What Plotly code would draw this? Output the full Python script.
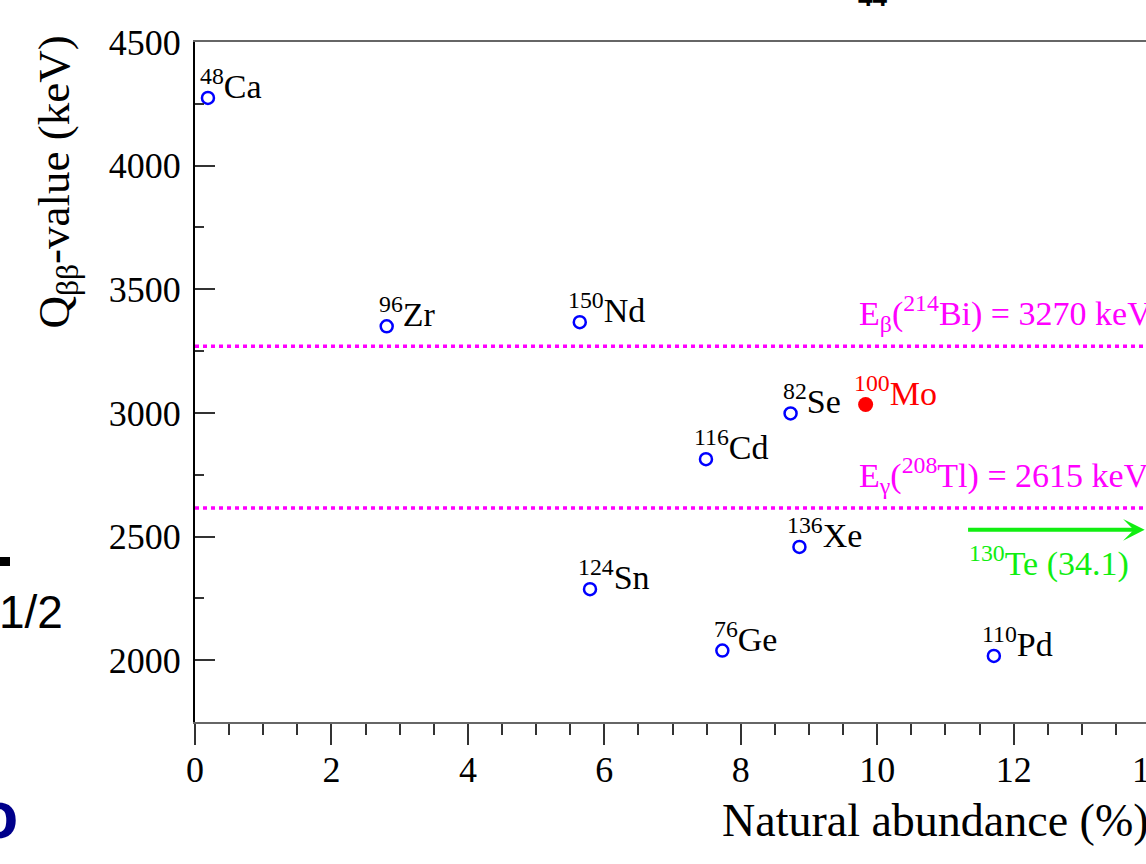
import plotly.graph_objects as go

# ---- data ----
mass_numbers = ["48", "76", "82", "96", "110", "116", "124", "136", "150"]
elements = ["Ca", "Ge", "Se", "Zr", "Pd", "Cd", "Sn", "Xe", "Nd"]
abundance = [0.19, 7.73, 8.73, 2.81, 11.71, 7.49, 5.79, 8.86, 5.64]
q_value = [4274, 2039, 2998, 3350, 2017, 2813, 2287, 2458, 3367]

mo_mass, mo_element = "100", "Mo"
mo_abundance = [9.83]
mo_q = [3034]

te_mass, te_element = "130", "Te"
te_abundance = 34.1
te_q = 2527
te_arrow_start = 11.31

bg_lines_q = [3270, 2615]
bg_labels = ["E<sub>β</sub>(<sup>214</sup>Bi) = 3270 keV",
             "E<sub>γ</sub>(<sup>208</sup>Tl) = 2615 keV"]
bg_label_x = 9.71

x_range = [0, 13.94]
y_range = [1750, 4500]
x_ticks = [0, 2, 4, 6, 8, 10, 12]
y_ticks = [2000, 2500, 3000, 3500, 4000, 4500]

SERIF = "Liberation Serif"
SANS = "Liberation Sans"
W, H = 1146, 864
L, R, T, B = 195, 0, 42, 142
PW, PH = W - L - R, H - T - B


def px(xp):
    return (xp - L) / PW


def py(yp):
    return (H - B - yp) / PH


fig = go.Figure()

# background lines
for qv in bg_lines_q:
    fig.add_trace(go.Scatter(
        x=[x_range[0], 14.5], y=[qv, qv], mode="lines",
        line=dict(color="#ff00ff", width=3.5, dash="4px,4px"),
        hoverinfo="skip", showlegend=False, cliponaxis=True))

fig.add_trace(go.Scatter(
    x=abundance, y=q_value, mode="markers",
    marker=dict(symbol="circle-open", size=12, color="#0000ff",
                line=dict(width=2.5, color="#0000ff")),
    showlegend=False, cliponaxis=False))

fig.add_trace(go.Scatter(
    x=mo_abundance, y=mo_q, mode="markers",
    marker=dict(symbol="circle", size=15, color="#ff0000"),
    showlegend=False, cliponaxis=False))

annotations = []
for m, e, xv, yv in zip(mass_numbers, elements, abundance, q_value):
    annotations.append(dict(
        x=xv, y=yv, xref="x", yref="y", text=f"<sup>{m}</sup>{e}",
        showarrow=False, xanchor="left", yanchor="bottom",
        xshift=-2 - 4 * len(m), yshift=-9,
        font=dict(family=SERIF, size=34, color="black")))

annotations.append(dict(
    x=mo_abundance[0], y=mo_q[0], xref="x", yref="y",
    text=f"<sup>{mo_mass}</sup>{mo_element}",
    showarrow=False, xanchor="left", yanchor="bottom",
    xshift=-2 - 4 * len(mo_mass), yshift=-9,
    font=dict(family=SERIF, size=34, color="#ff0000")))

for qv, lab in zip(bg_lines_q, bg_labels):
    annotations.append(dict(
        x=bg_label_x, y=qv, xref="x", yref="y", text=lab,
        showarrow=False, xanchor="left", yanchor="bottom", yshift=7,
        font=dict(family=SERIF, size=34, color="#ff00ff")))

# 130Te arrow (off scale)
annotations.append(dict(
    x=13.92, y=te_q, xref="x", yref="y",
    ax=te_arrow_start, ay=te_q, axref="x", ayref="y",
    text="", showarrow=True, arrowhead=3, arrowsize=0.9, arrowwidth=4,
    arrowcolor="#11ee11"))
annotations.append(dict(
    x=te_arrow_start, y=te_q, xref="x", yref="y",
    text=f"<sup>{te_mass}</sup>{te_element} ({te_abundance})",
    showarrow=False, xanchor="left", yanchor="top", yshift=-8,
    font=dict(family=SERIF, size=34, color="#11ee11")))

# cut-off "14" tick label
annotations.append(dict(
    x=px(1150), y=py(770), xref="paper", yref="paper", text="14",
    showarrow=False, xanchor="center", yanchor="middle",
    font=dict(family=SERIF, size=36, color="black")))

# axis titles
annotations.append(dict(
    x=px(1151), y=py(820), xref="paper", yref="paper",
    text="Natural abundance (%)", showarrow=False,
    xanchor="right", yanchor="middle",
    font=dict(family=SERIF, size=46, color="black")))
annotations.append(dict(
    x=px(56), y=py(34), xref="paper", yref="paper",
    text="Q<sub>ββ</sub>-value (keV)", showarrow=False, textangle=-90,
    xanchor="center", yanchor="top",
    font=dict(family=SERIF, size=45, color="black")))

# slide fragments around the crop
annotations.append(dict(
    x=px(65), y=py(612), xref="paper", yref="paper", text="1/2",
    showarrow=False, xanchor="right", yanchor="middle",
    font=dict(family=SANS, size=46, color="black")))
annotations.append(dict(
    x=px(20), y=py(815), xref="paper", yref="paper", text="<b>o</b>",
    showarrow=False, xanchor="right", yanchor="middle",
    font=dict(family=SANS, size=66, color="#00008b")))
annotations.append(dict(
    x=px(872), y=py(14), xref="paper", yref="paper", text="<b>44</b>",
    showarrow=False, xanchor="center", yanchor="bottom",
    font=dict(family=SANS, size=26, color="black")))

shapes = [dict(type="rect", xref="paper", yref="paper",
               x0=px(0), x1=px(10), y0=py(566), y1=py(557),
               fillcolor="black", line=dict(width=0))]

fig.update_layout(
    width=W, height=H, margin=dict(l=L, r=R, t=T, b=B),
    paper_bgcolor="white", plot_bgcolor="white",
    annotations=annotations, shapes=shapes, showlegend=False,
    xaxis=dict(range=x_range, tickvals=x_ticks, ticktext=[str(v) for v in x_ticks],
               ticks="outside", ticklen=21, tickwidth=1.5, tickcolor="#333",
               ticklabelstandoff=-6,
               minor=dict(dtick=0.5, ticks="outside", ticklen=11, tickwidth=1.5,
                          tickcolor="#333", showgrid=False),
               showline=True, linecolor="#666", linewidth=2, mirror=True,
               showgrid=False, zeroline=False,
               tickfont=dict(family=SERIF, size=36, color="black")),
    yaxis=dict(range=y_range, tickvals=y_ticks, ticktext=[str(v) for v in y_ticks],
               ticks="inside", ticklen=20, tickwidth=1.5, tickcolor="#333",
               ticklabelstandoff=5,
               minor=dict(dtick=250, tick0=1750, ticks="inside", ticklen=9,
                          tickwidth=1.5, tickcolor="#333", showgrid=False),
               showline=True, linecolor="black", linewidth=2,
               showgrid=False, zeroline=False,
               tickfont=dict(family=SERIF, size=36, color="black")),
)

fig.write_html("out.html")
